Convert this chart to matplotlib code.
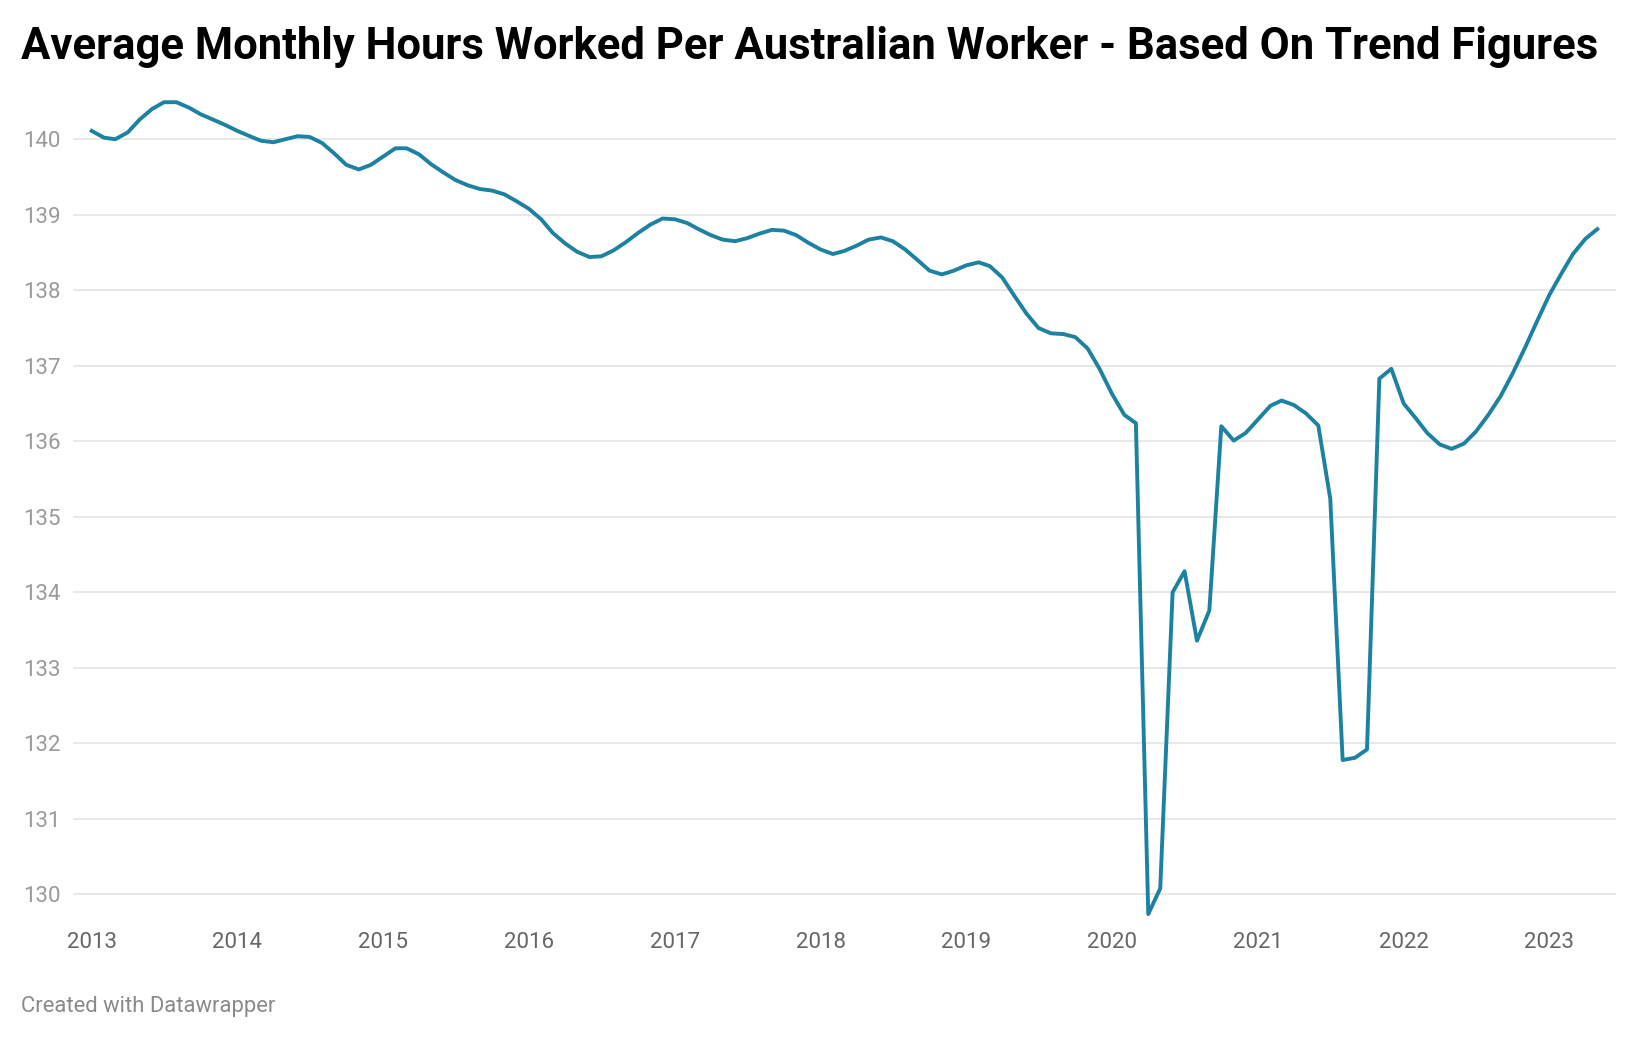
import numpy as np
import pandas as pd
import matplotlib
matplotlib.use("Agg")
import matplotlib.pyplot as plt

# Average monthly hours worked, trend series, Jan 2013 - May 2023
start_month = "2013-01-01"
hours = [
    140.11, 140.02, 140.00, 140.09, 140.26, 140.40, 140.49, 140.49, 140.42, 140.33, 140.26, 140.19,  # 2013
    140.11, 140.04, 139.98, 139.96, 140.00, 140.04, 140.03, 139.95, 139.81, 139.66, 139.60, 139.66,  # 2014
    139.77, 139.88, 139.88, 139.80, 139.67, 139.56, 139.46, 139.39, 139.34, 139.32, 139.27, 139.18,  # 2015
    139.08, 138.94, 138.76, 138.62, 138.51, 138.44, 138.45, 138.53, 138.64, 138.76, 138.87, 138.95,  # 2016
    138.94, 138.89, 138.81, 138.73, 138.67, 138.65, 138.69, 138.75, 138.80, 138.79, 138.73, 138.63,  # 2017
    138.54, 138.48, 138.52, 138.59, 138.67, 138.70, 138.65, 138.54, 138.40, 138.26, 138.21, 138.26,  # 2018
    138.33, 138.37, 138.32, 138.17, 137.93, 137.69, 137.50, 137.43, 137.42, 137.38, 137.23, 136.96,  # 2019
    136.63, 136.35, 136.24, 129.74, 130.08, 134.00, 134.28, 133.36, 133.76, 136.20, 136.01, 136.11,  # 2020
    136.29, 136.47, 136.54, 136.48, 136.37, 136.21, 135.24, 131.78, 131.81, 131.92, 136.83, 136.96,  # 2021
    136.50, 136.30, 136.11, 135.96, 135.90, 135.97, 136.13, 136.35, 136.60, 136.90, 137.24, 137.59,  # 2022
    137.94, 138.23, 138.48, 138.68, 138.81,                                                          # 2023
]
y_ticks = [130, 131, 132, 133, 134, 135, 136, 137, 138, 139, 140]
year_ticks = list(range(2013, 2024))

title = "Average Monthly Hours Worked Per Australian Worker - Based On Trend Figures"
footer = "Created with Datawrapper"

dates = pd.date_range(start_month, periods=len(hours), freq="MS")

plt.rcParams["font.family"] = ["Roboto", "DejaVu Sans"]

fig = plt.figure(figsize=(16.4, 10.4), dpi=100)
ax = fig.add_axes([0.0445, 0.1109, 0.9409, 0.7988])

# Gridlines
for v in y_ticks:
    ax.axhline(v, color="#e2e2e2", lw=1.1, zorder=1)

ax.plot(dates, hours, color="#1d81a2", lw=2.8, zorder=3)

pad = pd.Timedelta(days=47)
ax.set_xlim(dates[0] - pad, dates[-1] + pad)
ax.set_ylim(129.6, 140.6)

ax.set_yticks(y_ticks)
ax.set_yticklabels([str(v) for v in y_ticks])
ax.set_xticks([pd.Timestamp(f"{y}-01-01") for y in year_ticks])
ax.set_xticklabels([str(y) for y in year_ticks])

ax.tick_params(axis="y", length=0, pad=9, labelsize=16, labelcolor="#9a9a9a")
ax.tick_params(axis="x", length=0, pad=5, labelsize=16, labelcolor="#666666")
for s in ax.spines.values():
    s.set_visible(False)
ax.grid(False)

fig.text(0.0128, 0.955, title, fontsize=31.45, fontweight="bold", color="#000000",
         ha="left", va="center")
fig.text(0.0128, 0.032, footer, fontsize=15.8, color="#8a8a8a", ha="left", va="center")

fig.savefig("out.png", dpi=100, facecolor="white")
